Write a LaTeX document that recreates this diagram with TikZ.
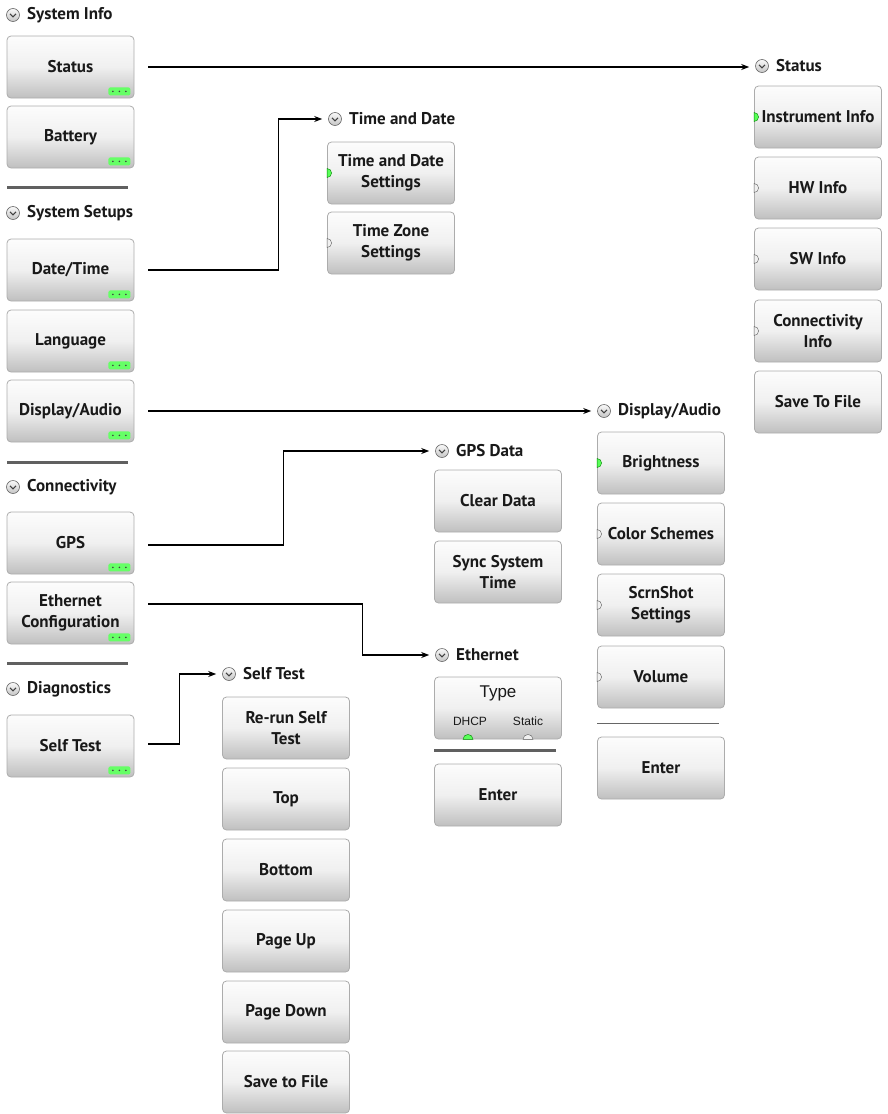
\documentclass[tikz,border=0pt]{standalone}
\usepackage{fontspec}
\setmainfont{PT Sans}
\newfontfamily\arialf{Liberation Sans}
\usetikzlibrary{arrows.meta}
\newcommand\btnfont{\bfseries\fontsize{17}{21}\selectfont}
\tikzset{
  btn/.style={draw=gray!65, line width=0.8pt, rounded corners=4pt, top color=gray!2, bottom color=gray!50, middle color=gray!12,
    minimum width=127pt, minimum height=62pt, align=center, font=\btnfont, text=black!90, inner sep=1pt},
  hicon/.style={circle, draw=gray!80!black, line width=0.6pt, top color=gray!5, bottom color=gray!45, minimum size=13pt, inner sep=0pt},
  chev/.style={draw=black!75, line width=1pt},
  htext/.style={font=\btnfont, text=black!90, inner sep=0pt, anchor=west},
  conn/.style={draw=black, line width=1.2pt, -{Stealth[length=8pt,width=6pt]}, shorten >=6pt},
  septhick/.style={draw=gray!75!black, line width=3pt},
  septhin/.style={draw=gray!80!black, line width=1pt},
  indon/.style={fill=green!65!white, draw=green!50!black, line width=0.4pt},
  indoff/.style={fill=gray!12, draw=gray!70!black, line width=0.4pt},
}
\newcommand\hdr[4]{%
  \node[hicon] (#1) at (#2,#3) {};
  \draw[chev] ([xshift=-3pt,yshift=1.2pt]#1.center) -- ([yshift=-1.8pt]#1.center) -- ([xshift=3pt,yshift=1.2pt]#1.center);
  \node[htext] (#1t) at ([xshift=14pt]#1.center) {#4};}
\newcommand\gdots[1]{%
  \fill[green!60!white, rounded corners=2pt] ([xshift=-26pt,yshift=3pt]#1.south east) rectangle ([xshift=-4pt,yshift=11pt]#1.south east);
  \foreach \dx in {-21.5,-15,-8.5} \fill[black!75] ([xshift=\dx pt,yshift=7pt]#1.south east) circle (0.9pt);}
\newcommand\indw[2]{%
  \begin{scope}[y=1pt]\filldraw[#2] ([yshift=4.5pt]#1.west) arc[start angle=90,end angle=-90,radius=4.5pt] -- cycle;\end{scope}}
\begin{document}
\begin{tikzpicture}[x=1pt,y=-1pt]
\useasboundingbox (0,0) rectangle (888,1114);
% left column
\hdr{hSI}{13}{15}{System Info}
\node[btn] (bStatus) at (70.5,67) {Status};
\node[btn] (bBattery) at (70.5,137) {Battery};
\draw[septhick] (7,187) -- (128,187);
\hdr{hSS}{13}{213}{System Setups}
\node[btn] (bDate) at (70.5,270) {Date/Time};
\node[btn] (bLang) at (70.5,341) {Language};
\node[btn] (bDisp) at (70.5,411) {Display/Audio};
\draw[septhick] (7,462) -- (128,462);
\hdr{hCo}{13}{487}{Connectivity}
\node[btn] (bGPS) at (70.5,543) {GPS};
\node[btn] (bEth) at (70.5,613) {Ethernet\\Configuration};
\draw[septhick] (7,663) -- (128,663);
\hdr{hDi}{13}{689}{Diagnostics}
\node[btn] (bSelf) at (70.5,746) {Self Test};
\foreach \b in {bStatus,bBattery,bDate,bLang,bDisp,bGPS,bEth,bSelf} {\gdots{\b}}
% Time and Date
\hdr{hTD}{335}{119}{Time and Date}
\node[btn] (bTDS) at (391,173) {Time and Date\\Settings};
\node[btn] (bTZS) at (391,243) {Time Zone\\Settings};
\indw{bTDS}{indon}
\indw{bTZS}{indoff}
% Status
\hdr{hSt}{762}{66}{Status}
\node[btn] (bInst) at (818,117) {Instrument Info};
\node[btn] (bHW) at (818,188) {HW Info};
\node[btn] (bSW) at (818,259) {SW Info};
\node[btn] (bConn) at (818,331) {Connectivity\\Info};
\node[btn] (bSave) at (818,402) {Save To File};
\indw{bInst}{indon}
\foreach \b in {bHW,bSW,bConn} {\indw{\b}{indoff}}
% Display/Audio
\hdr{hDA}{604}{411}{Display/Audio}
\node[btn] (bBright) at (661,463) {Brightness};
\node[btn] (bColor) at (661,534) {Color Schemes};
\node[btn] (bScrn) at (661,605) {ScrnShot\\Settings};
\node[btn] (bVol) at (661,677) {Volume};
\draw[septhin] (597,723) -- (719,723);
\node[btn] (bDEnter) at (661,768) {Enter};
\indw{bBright}{indon}
\foreach \b in {bColor,bScrn,bVol} {\indw{\b}{indoff}}
% GPS Data
\hdr{hGPS}{442}{451}{GPS Data}
\node[btn] (bClear) at (498,501) {Clear Data};
\node[btn] (bSync) at (498,572) {Sync System\\Time};
% Ethernet
\hdr{hEth}{442}{655}{Ethernet}
\node[btn] (bType) at (498,708) {};
\node[font=\arialf\fontsize{17}{19}\selectfont, text=black!90] (tType) at ([yshift=15pt]bType.center) {Type};
\node[font=\arialf\fontsize{12}{14}\selectfont, text=black!90] (tDHCP) at ([xshift=-28pt,yshift=-13pt]bType.center) {DHCP};
\node[font=\arialf\fontsize{12}{14}\selectfont, text=black!90] (tStatic) at ([xshift=30pt,yshift=-13pt]bType.center) {Static};
\begin{scope}[y=1pt]
\filldraw[indon] ([xshift=-35pt]bType.south) arc[start angle=180,end angle=0,radius=5pt] -- cycle;
\filldraw[indoff] ([xshift=25pt]bType.south) arc[start angle=180,end angle=0,radius=5pt] -- cycle;
\end{scope}
\draw[septhick] (434,750) -- (556,750);
\node[btn] (bEEnter) at (498,795) {Enter};
% Self Test
\hdr{hSelf}{229}{674}{Self Test}
\node[btn] (bRerun) at (286,728) {Re-run Self\\Test};
\node[btn] (bTop) at (286,799) {Top};
\node[btn] (bBottom) at (286,870) {Bottom};
\node[btn] (bPgUp) at (286,941) {Page Up};
\node[btn] (bPgDn) at (286,1012) {Page Down};
\node[btn] (bSaveF) at (286,1082) {Save to File};
% connectors
\draw[conn] ([xshift=14pt]bStatus.east) -- (hSt.west |- bStatus.east);
\draw[conn] ([xshift=14pt]bDate.east) -- ++(130,0) |- (hTD.west);
\draw[conn] ([xshift=14pt]bDisp.east) -- (hDA.west);
\draw[conn] ([xshift=14pt,yshift=-2pt]bGPS.east) -- ++(135,0) |- (hGPS.west);
\draw[conn] ([xshift=14pt,yshift=9pt]bEth.east) -- ++(214,0) |- (hEth.west);
\draw[conn] ([xshift=14pt,yshift=2pt]bSelf.east) -- ++(31,0) |- (hSelf.west);
\end{tikzpicture}
\end{document}
